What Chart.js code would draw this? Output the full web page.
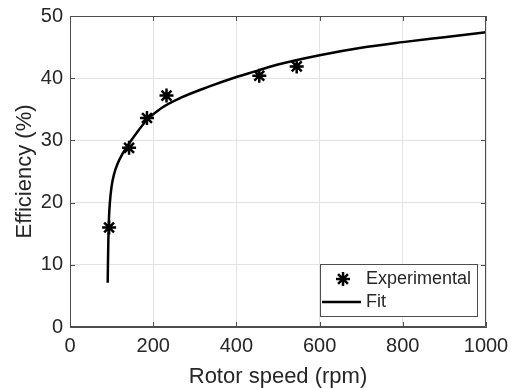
<!DOCTYPE html>
<html>
<head>
<meta charset="utf-8">
<script src="https://cdn.jsdelivr.net/npm/chart.js@4/dist/chart.umd.min.js"></script>
<style>
  html, body { margin:0; padding:0; background:#fff; }
  canvas { display:block; }
</style>
</head>
<body>
<canvas id="chart" width="511" height="388"></canvas>
<script>
/* ---------- data ---------- */
const expSpeed = [94, 142, 185, 232, 455, 545];
const expEff   = [16.0, 28.8, 33.6, 37.2, 40.4, 41.9];

const fitSpeed = [90.6, 91.2, 92.2, 93.8, 96, 100, 106, 114.6, 126.6, 140, 160, 184, 220, 268, 332, 400, 445, 500, 600, 700, 800, 900, 1000];
const fitEff   = [7.1, 10.0, 14.0, 17.7, 20.1, 22.6, 24.6, 26.3, 27.9, 29.3, 31.2, 33.2, 35.2, 36.9, 38.6, 40.2, 41.1, 42.2, 43.7, 44.9, 45.8, 46.6, 47.4];

const xTicks = [0, 200, 400, 600, 800, 1000];
const yTicks = [0, 10, 20, 30, 40, 50];

const seriesNames = ['Experimental', 'Fit'];

/* ---------- helpers ---------- */
const FONT = '"Liberation Sans", Arial, Helvetica, sans-serif';
const AXIS = '#4d4d4d';
const TXT  = '#262626';
const pts = (xs, ys) => xs.map((x, i) => ({ x, y: ys[i] }));

/* inward tick marks on all four sides (MATLAB box style) */
const boxTicks = {
  id: 'boxTicks',
  afterDraw(chart) {
    const { ctx, chartArea: a, scales: { x, y } } = chart;
    const len = 5;
    ctx.save();
    ctx.strokeStyle = AXIS;
    ctx.lineWidth = 1;
    ctx.beginPath();
    ctx.rect(a.left + 0.5, a.top + 0.5, a.right - a.left - 1, a.bottom - a.top - 1);
    xTicks.forEach(v => {
      const px = Math.round(x.getPixelForValue(v)) + 0.5;
      ctx.moveTo(px, a.bottom); ctx.lineTo(px, a.bottom - len);
      ctx.moveTo(px, a.top);    ctx.lineTo(px, a.top + len);
    });
    yTicks.forEach(v => {
      const py = Math.round(y.getPixelForValue(v)) + 0.5;
      ctx.moveTo(a.left, py);  ctx.lineTo(a.left + len, py);
      ctx.moveTo(a.right, py); ctx.lineTo(a.right - len, py);
    });
    ctx.stroke();
    ctx.restore();
  }
};

/* legend box inside the lower right corner */
const innerLegend = {
  id: 'innerLegend',
  afterDraw(chart) {
    const { ctx, chartArea: a } = chart;
    const w = 157, h = 52;
    const right = a.right - 9, bottom = a.bottom - 11;
    const left = right - w, top = bottom - h;
    ctx.save();
    ctx.fillStyle = '#fff';
    ctx.fillRect(left, top, w, h);
    ctx.strokeStyle = AXIS;
    ctx.lineWidth = 1;
    ctx.strokeRect(left + 0.5, top + 0.5, w, h);

    // star marker
    ctx.strokeStyle = '#000';
    ctx.fillStyle = '#000';
    ctx.lineWidth = 2.5;
    Chart.helpers.drawPoint(ctx, { pointStyle: 'star', radius: 7, borderWidth: 2.5, rotation: 0 },
      left + 23, top + 15);

    // line sample
    ctx.beginPath();
    ctx.moveTo(left + 2, top + 38);
    ctx.lineTo(left + 41, top + 38);
    ctx.stroke();

    ctx.fillStyle = TXT;
    ctx.font = '18px ' + FONT;
    ctx.textBaseline = 'middle';
    ctx.fillText(seriesNames[0], left + 46, top + 15);
    ctx.fillText(seriesNames[1], left + 46, top + 38);
    ctx.restore();
  }
};

/* ---------- chart ---------- */
new Chart(document.getElementById('chart'), {
  type: 'scatter',
  data: {
    datasets: [
      {
        label: seriesNames[0],
        data: pts(expSpeed, expEff),
        pointStyle: 'star',
        pointRadius: 7,
        pointBorderWidth: 2.5,
        borderColor: '#000',
        backgroundColor: '#000',
        showLine: false,
        order: 0
      },
      {
        label: seriesNames[1],
        data: pts(fitSpeed, fitEff),
        showLine: true,
        pointRadius: 0,
        borderColor: '#000',
        borderWidth: 2.5,
        cubicInterpolationMode: 'monotone',
        order: 1
      }
    ]
  },
  options: {
    responsive: false,
    animation: false,
    layout: { padding: { top: 16, right: 25, left: 0, bottom: 0 } },
    plugins: { legend: { display: false }, tooltip: { enabled: false } },
    scales: {
      x: {
        type: 'linear', min: 0, max: 1000,
        afterBuildTicks: s => { s.ticks = xTicks.map(v => ({ value: v })); },
        afterFit: s => { s.height = 61; s.paddingLeft = 0; s.paddingRight = 0; },
        ticks: { color: TXT, font: { family: FONT, size: 20 }, padding: 7, maxRotation: 0,
                 callback: v => String(v) },
        grid: { color: '#e3e3e3', drawTicks: false },
        border: { color: AXIS },
        title: {
          display: true, text: 'Rotor speed (rpm)', color: TXT,
          font: { family: FONT, size: 22, lineHeight: 1 }, padding: { top: 0, bottom: 0 }
        }
      },
      y: {
        type: 'linear', min: 0, max: 50,
        afterBuildTicks: s => { s.ticks = yTicks.map(v => ({ value: v })); },
        afterFit: s => { s.width = 70; s.paddingTop = 0; s.paddingBottom = 0; },
        ticks: { color: TXT, font: { family: FONT, size: 20 }, padding: 7,
                 callback: v => String(v) },
        grid: { color: '#e3e3e3', drawTicks: false },
        border: { color: AXIS },
        title: {
          display: true, text: 'Efficiency (%)', color: TXT,
          font: { family: FONT, size: 22, lineHeight: 1 }, padding: { top: 14, bottom: 0 }
        }
      }
    }
  },
  plugins: [boxTicks, innerLegend]
});
</script>
</body>
</html>
